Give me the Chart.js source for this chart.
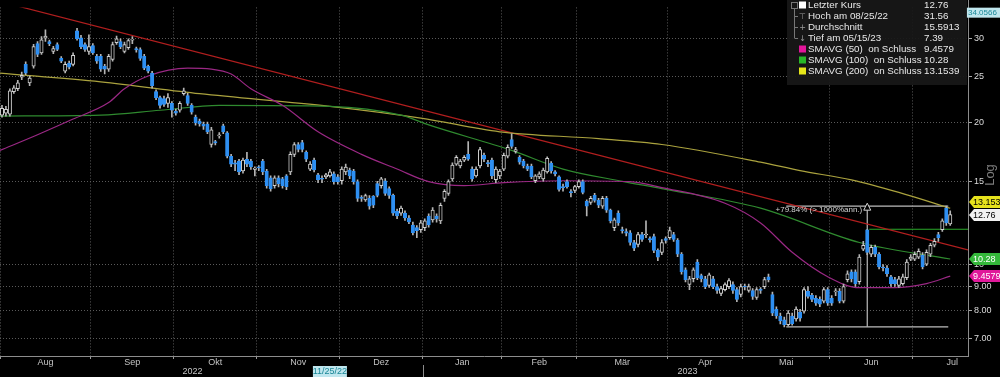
<!DOCTYPE html>
<html>
<head>
<meta charset="utf-8">
<title>Kurs</title>
<script src="https://cdn.jsdelivr.net/npm/chart.js@4.4.1/dist/chart.umd.min.js"></script>
<style>
  html, body { margin: 0; padding: 0; background: #000; }
  canvas { display: block; }
</style>
</head>
<body>
<canvas id="mycanvas" width="1000" height="377"></canvas>
<script>
// months on the axis and their trading day counts
var months = ['Aug', 'Sep', 'Okt', 'Nov', 'Dez', 'Jan', 'Feb', 'Mär', 'Apr', 'Mai', 'Jun', 'Jul'];
var monthDays = [23, 21, 21, 21, 21, 20, 19, 23, 19, 22, 21, 20];
var years = ['2022', '2023'];
var yearMonths = [5, 7];
var yTicks = [7, 8, 9, 10, 15, 20, 25, 30];

// daily candles, 01.08.2022 - 14.07.2023
var open = [20.69,20.89,20.79,23.19,23.52,24.90,26.49,24.21,26.25,29.30,
28.00,30.10,29.58,28.20,29.16,27.27,25.63,26.64,26.49,31.17,
30.14,29.16,28.20,29.02,27.53,27.53,26.25,25.88,27.14,29.44,
29.58,28.20,28.74,29.80,28.60,28.47,27.53,26.25,25.39,23.19,
22.53,22.43,21.91,21.91,21.09,21.19,22.97,22.75,21.70,20.50,
20.10,19.80,19.82,17.94,18.20,18.70,19.64,18.98,16.94,16.40,
16.54,15.77,16.70,16.54,15.90,16.10,16.54,15.77,15.25,14.69,
15.25,15.18,15.40,15.70,17.10,17.94,18.11,17.27,15.92,16.62,
15.48,15.20,15.33,15.40,15.55,15.33,15.04,15.70,15.85,15.77,
14.97,13.85,13.70,13.80,13.94,14.83,14.69,15.04,14.48,14.01,
12.97,12.85,12.85,12.55,12.13,11.97,11.85,11.97,12.67,12.43,
12.67,12.37,13.80,14.14,15.18,16.31,16.16,16.62,17.10,15.92,
15.40,16.16,17.02,16.40,16.62,15.11,15.40,15.92,16.94,18.37,
17.35,16.86,16.54,16.16,16.16,15.04,15.33,15.18,15.70,16.39,
15.70,15.33,14.60,14.97,14.25,14.35,14.62,14.97,13.61,13.54,
14.01,13.67,13.29,13.80,13.04,11.97,12.85,11.85,11.75,11.68,
11.14,11.04,11.57,11.55,11.35,11.46,10.72,10.62,11.35,11.41,
11.57,11.25,10.52,9.75,9.08,9.34,10.13,9.48,9.34,9.04,
9.34,8.99,8.70,8.86,8.99,9.08,8.86,8.65,9.00,8.82,
8.82,8.53,8.88,8.99,9.43,8.65,8.05,7.79,7.65,7.47,
7.79,7.68,7.94,7.98,8.78,8.61,8.49,8.45,8.37,8.86,
8.49,8.76,8.78,8.37,9.30,9.66,9.66,9.21,10.78,11.85,
10.52,10.88,10.52,9.86,9.84,9.43,9.30,9.04,9.12,9.39,
10.27,10.27,10.37,10.47,10.03,10.52,10.99,11.57,11.85,13.16,
12.19];
var high = [21.70,21.60,23.52,23.90,24.50,25.50,26.80,25.03,29.20,29.60,
30.30,31.33,29.80,28.90,29.40,27.50,26.80,26.90,28.00,31.56,
30.50,29.40,30.58,29.30,27.80,27.80,26.50,27.80,29.50,30.40,
30.00,29.50,30.00,30.30,28.80,28.70,27.80,26.40,25.60,23.40,
22.70,22.70,22.97,22.10,21.30,22.10,23.60,23.00,21.90,20.70,
20.30,20.00,20.00,19.50,18.30,19.00,19.80,19.10,17.10,16.60,
16.70,16.80,17.27,16.70,16.10,16.20,16.70,15.90,15.40,15.40,
15.40,15.30,15.50,17.30,18.10,18.10,18.30,17.40,16.50,16.80,
15.60,15.40,15.60,15.90,15.70,15.50,16.10,16.30,16.00,15.90,
15.10,14.00,14.10,14.00,14.00,15.00,15.30,15.20,14.60,14.10,
13.10,13.30,13.00,12.70,12.30,12.10,12.40,12.50,12.80,13.20,
12.80,13.50,14.40,15.10,16.40,17.00,16.70,17.00,18.20,16.10,
16.10,17.70,17.20,16.60,16.80,16.10,15.90,17.20,17.90,18.90,
17.70,17.00,16.70,16.30,16.30,15.50,15.70,16.00,16.90,16.50,
15.80,15.40,14.80,15.10,14.40,14.70,15.10,15.10,13.70,13.95,
14.15,13.80,13.95,13.95,13.10,12.55,13.00,12.00,11.90,11.80,
11.25,11.70,11.70,12.37,11.45,11.60,10.80,11.30,11.45,12.00,
11.70,11.35,10.60,9.85,9.45,9.85,10.25,9.55,9.45,9.60,
9.45,9.10,9.00,9.15,9.35,9.20,8.95,9.10,9.10,9.10,
8.90,8.95,8.95,9.40,9.55,8.75,8.15,7.90,7.75,8.00,
7.90,8.15,8.05,8.95,8.99,8.70,8.60,8.55,8.95,8.95,
8.60,8.90,8.90,9.10,9.70,9.75,9.75,10.50,11.20,11.88,
11.00,11.00,10.60,10.00,9.95,9.50,9.40,9.45,9.55,10.25,
10.50,10.65,10.80,10.60,10.75,11.10,11.35,11.70,12.50,13.29,
13.00];
var low = [20.50,20.60,20.60,23.00,23.30,24.60,25.20,23.87,26.00,27.50,
27.80,29.60,29.00,27.90,28.30,26.70,25.40,25.90,26.30,29.80,
28.60,28.20,27.80,27.80,26.60,25.60,25.27,25.60,26.90,29.20,
28.60,28.00,28.50,29.30,28.10,27.00,25.80,25.40,23.60,22.30,
21.40,21.60,21.49,20.50,20.70,21.00,22.80,21.70,20.80,19.70,
19.60,19.30,18.90,17.70,17.90,18.50,18.90,16.80,16.10,15.80,
15.50,15.60,16.10,15.90,15.40,15.80,15.50,14.50,14.30,14.50,
14.60,14.50,14.40,15.50,16.90,17.30,17.30,16.50,15.80,15.70,
14.90,14.90,15.20,15.30,14.80,14.80,14.80,15.50,15.20,14.80,
13.60,13.60,13.60,13.10,13.20,13.90,14.50,14.00,13.80,12.70,
12.50,12.70,12.40,12.20,11.55,11.40,11.70,11.80,12.00,12.30,
12.30,12.20,13.60,14.00,15.00,16.20,16.00,16.50,16.60,15.00,
15.30,16.00,16.50,16.10,15.20,14.90,15.20,15.80,16.80,17.60,
17.20,16.30,16.00,15.80,15.20,14.90,15.20,15.00,15.60,15.60,
15.40,14.30,14.30,14.50,13.90,14.20,14.50,14.10,12.67,13.40,
13.55,13.20,13.15,12.90,12.25,11.80,12.10,11.65,11.50,11.00,
10.70,10.90,11.20,11.40,11.15,10.60,10.20,10.50,11.10,11.30,
11.20,10.40,9.55,9.20,8.86,9.20,9.30,9.20,8.90,8.95,
8.90,8.70,8.60,8.80,8.90,8.70,8.35,8.55,8.85,8.75,
8.45,8.45,8.70,8.90,9.20,7.80,7.70,7.50,7.39,7.42,
7.45,7.60,7.60,7.90,8.50,8.35,8.20,8.15,8.30,8.20,
8.20,8.60,8.30,8.30,9.20,9.20,9.00,9.10,10.70,10.50,
10.40,10.40,9.80,9.70,9.45,9.00,9.00,8.95,9.05,9.30,
10.20,10.20,10.30,9.80,9.95,10.40,10.90,11.20,11.75,12.10,
12.10];
var close = [21.39,21.29,23.30,23.63,24.21,25.10,25.39,24.79,28.88,27.80,
29.86,30.40,29.30,28.61,28.47,26.89,26.49,26.13,27.66,30.00,
28.88,28.47,28.88,28.00,26.89,25.88,25.88,27.53,29.16,30.00,
28.88,29.16,29.72,29.90,28.40,27.27,26.00,25.63,23.87,22.53,
21.70,21.80,22.53,21.19,20.89,21.91,23.30,21.91,20.99,19.92,
19.82,19.60,19.08,19.26,18.07,18.80,19.08,16.94,16.31,16.30,
15.70,16.62,16.31,16.08,16.00,16.00,15.70,14.69,14.48,15.25,
14.83,14.69,14.62,17.10,17.94,17.51,17.51,16.70,16.31,15.85,
15.11,15.15,15.48,15.70,14.97,14.97,15.92,16.08,15.40,14.97,
13.80,13.80,14.00,13.29,13.35,14.01,15.18,14.14,14.01,12.85,
12.67,13.16,12.55,12.31,11.68,11.80,12.25,12.37,12.13,13.04,
12.49,13.35,14.28,14.97,16.23,16.86,16.54,16.86,16.70,15.18,
15.92,17.51,16.70,16.35,15.40,15.92,15.77,17.02,17.69,17.77,
17.51,16.46,16.16,15.92,15.33,15.40,15.55,15.85,16.78,15.77,
15.55,14.41,14.55,14.62,14.20,14.62,14.97,14.21,13.29,13.80,
13.67,13.35,13.80,13.04,12.37,12.43,12.25,11.80,11.65,11.14,
10.83,11.57,11.30,11.60,11.28,10.72,10.37,11.14,11.25,11.80,
11.30,10.52,9.66,9.30,9.34,9.75,9.39,9.34,8.99,9.52,
8.99,8.82,8.90,9.08,9.25,8.82,8.45,8.99,8.97,8.99,
8.57,8.86,8.82,9.30,9.30,7.90,7.79,7.61,7.47,7.90,
7.51,8.06,7.71,8.86,8.57,8.45,8.29,8.25,8.86,8.29,
8.29,8.80,8.37,8.99,9.57,9.34,9.12,10.37,10.99,10.62,
10.88,10.52,9.89,9.84,9.57,9.12,9.12,9.34,9.43,10.13,
10.37,10.52,10.67,9.89,10.62,10.99,11.20,11.41,12.37,12.25,
12.76];

// moving averages (day index, value)
var sma50X = [-0.5, 9, 18, 27, 31, 37, 47, 53, 58, 63, 71, 80, 91, 100, 108, 117, 127, 142, 159, 167, 183, 192, 200, 209, 217, 226, 234, 240];
var sma50 = [17.43, 18.81, 20.30, 22.00, 23.52, 25.03, 26.00, 25.88, 25.27, 23.52, 21.70, 19.08, 17.10, 15.92, 14.97, 14.69, 14.90, 15.04, 14.97, 14.55, 13.48, 12.25, 10.62, 9.43, 8.94, 8.94, 9.12, 9.4579];
var sma100X = [-0.5, 25, 40, 55, 83, 101, 108, 129, 142, 157, 167, 192, 217, 240];
var sma100 = [20.60, 20.69, 21.19, 21.70, 21.60, 20.69, 19.73, 17.43, 15.92, 15.00, 14.48, 13.16, 11.14, 10.28];
var sma200X = [-0.5, 25, 50, 83, 106, 126, 151, 167, 192, 202, 215, 227, 240];
var sma200 = [25.39, 24.33, 22.97, 21.60, 20.40, 19.08, 18.46, 17.94, 16.46, 15.80, 15.10, 14.21, 13.1539];

// trend line and drawn levels
var trendX = [-0.5, 244.5];
var trend = [35.95, 10.74];
var spikeX = [219.5, 244.5];
var spikeLevel = 11.88;
var boxX = [198.5, 219, 239.5];
var boxLow = 7.39;
var boxHigh = 13.29;
var boxText = '+79.84% (> 1000%ann.)';

var legendNames = ['Letzter Kurs', 'Hoch am 08/25/22', 'Durchschnitt', 'Tief am 05/15/23', 'SMAVG (50)  on Schluss', 'SMAVG (100)  on Schluss', 'SMAVG (200)  on Schluss'];
var legendValues = ['12.76', '31.56', '15.5913', '7.39', '9.4579', '10.28', '13.1539'];
var topValue = '34.0566';
var crossDate = '11/25/22';
var crossDateIdx = 83;

var FONT = '"Liberation Sans", Arial, sans-serif';
var BLUE = '#2e8ff2';

var bodies = [], wicks = [];
for (var i = 0; i < close.length; i++) {
	wicks.push({x: i, y: [low[i], high[i]]});
	bodies.push({x: i, y: [Math.min(open[i], close[i]), Math.max(open[i], close[i])]});
}

function pts(xs, ys) {
	var out = [];
	for (var i = 0; i < xs.length; i++) out.push({x: xs[i], y: ys[i]});
	return out;
}

var bounds = [];
var b = -0.5;
for (var m = 0; m < months.length; m++) {
	bounds.push(b);
	b += monthDays[m];
}

function lineSet(data, color, order) {
	return {
		type: 'line', data: data, borderColor: color, borderWidth: 1.2,
		pointRadius: 0, cubicInterpolationMode: 'monotone', order: order
	};
}

var overlay = {
	id: 'overlay',
	afterDraw: function(chart) {
		var c = chart.ctx, a = chart.chartArea, xs = chart.scales.x, ys = chart.scales.y;
		c.save();

		// axis lines
		c.strokeStyle = '#8c8c8c';
		c.lineWidth = 1;
		c.beginPath();
		c.moveTo(a.right + 0.5, 0); c.lineTo(a.right + 0.5, a.bottom + 1);
		c.moveTo(0, a.bottom + 0.5); c.lineTo(a.right + 1, a.bottom + 0.5);
		c.stroke();

		// month + year labels
		c.font = '9px ' + FONT;
		c.fillStyle = '#c4c4c4';
		c.textAlign = 'center';
		c.textBaseline = 'middle';
		for (var m = 0; m < months.length; m++) {
			c.fillText(months[m], xs.getPixelForValue(bounds[m] + monthDays[m] / 2), a.bottom + 7);
		}
		var mi = 0;
		for (var y = 0; y < years.length; y++) {
			var from = bounds[mi];
			var to = mi + yearMonths[y] < bounds.length ? bounds[mi + yearMonths[y]] : close.length - 0.5;
			// first year: centre between first and last month label
			var mid = y === 0 ? (from + monthDays[0] / 2 + bounds[mi + yearMonths[y] - 1]) / 2 : (from + to) / 2;
			c.fillText(years[y], xs.getPixelForValue(mid), a.bottom + 16);
			if (y > 0) {
				var sx = Math.round(xs.getPixelForValue(from)) + 0.5;
				c.beginPath(); c.moveTo(sx, a.bottom + 9); c.lineTo(sx, a.bottom + 21); c.stroke();
			}
			mi += yearMonths[y];
		}

		// crosshair date box
		var dx = xs.getPixelForValue(crossDateIdx);
		c.fillStyle = '#bfe6ee';
		c.fillRect(dx - 17, a.bottom + 10, 34, 11);
		c.fillStyle = '#1a8797';
		c.fillText(crossDate, dx, a.bottom + 16);

		// annotation
		var vx = xs.getPixelForValue(boxX[1]);
		var ty = ys.getPixelForValue(boxHigh);
		c.font = '8px ' + FONT;
		c.fillStyle = '#d4d4d4';
		c.textAlign = 'right';
		c.fillText(boxText, vx - 5, ty + 4);
		c.strokeStyle = '#d0d0d0';
		c.beginPath();
		c.moveTo(vx, ty - 3); c.lineTo(vx + 3.5, ty + 4); c.lineTo(vx - 3.5, ty + 4); c.closePath();
		c.fillStyle = '#000'; c.fill(); c.stroke();

		// right side value tags
		function tag(v, text, bg, fg, dy) {
			var ty = Math.round(ys.getPixelForValue(v) + dy);
			var x0 = a.right + 1;
			c.beginPath();
			c.moveTo(x0, ty); c.lineTo(x0 + 5, ty - 6); c.lineTo(1000, ty - 6);
			c.lineTo(1000, ty + 6); c.lineTo(x0 + 5, ty + 6); c.closePath();
			c.fillStyle = bg; c.fill();
			c.font = '9px ' + FONT;
			c.textAlign = 'left';
			c.fillStyle = fg;
			c.fillText(text, x0 + 4, ty + 0.5);
		}
		tag(parseFloat(legendValues[6]), legendValues[6], '#e6e21c', '#000', -6);
		tag(parseFloat(legendValues[0]), legendValues[0], '#f2f2f2', '#000', 0);
		tag(parseFloat(legendValues[5]), legendValues[5], '#34b83a', '#fff', 0);
		tag(parseFloat(legendValues[4]), legendValues[4], '#e0189a', '#fff', 0);

		var tv = ys.getPixelForValue(parseFloat(topValue));
		c.fillStyle = '#bfe6ee';
		c.fillRect(a.right - 2, tv - 5, 1000 - a.right + 2, 10);
		c.fillStyle = '#1a8797';
		c.font = '8px ' + FONT;
		c.textAlign = 'left';
		c.fillText(topValue, a.right, tv + 0.5);

		// Log
		c.save();
		c.translate(990, 175);
		c.rotate(-Math.PI / 2);
		c.font = '13px ' + FONT;
		c.fillStyle = '#7c7c7c';
		c.textAlign = 'center';
		c.fillText('Log', 0, 0);
		c.restore();

		// legend box
		var lx = 787, lw = a.right - 1 - lx;
		c.fillStyle = 'rgba(24,24,24,0.93)';
		c.fillRect(lx, 0, lw, 85);
		c.strokeStyle = '#777';
		c.beginPath();
		c.moveTo(794.5, 8); c.lineTo(794.5, 38);
		for (var r = 1; r < 4; r++) { c.moveTo(794.5, 5.5 + r * 11); c.lineTo(798, 5.5 + r * 11); }
		c.stroke();
		c.strokeRect(791.5, 2.5, 6, 6);
		var icons = ['#ffffff', null, null, null, '#e3159a', '#28b828', '#e6e619'];
		var glyphs = ['', '⊤', '+', '↓', '', '', ''];
		var lf = '9.8px ' + FONT;
		c.font = lf;
		for (var r = 0; r < legendNames.length; r++) {
			var ry = 5.5 + r * 11;
			if (icons[r]) {
				c.fillStyle = icons[r];
				c.fillRect(799, ry - 4, 7, 7);
			} else {
				c.fillStyle = '#9a9a9a';
				c.textAlign = 'center';
				c.font = '8px "DejaVu Sans", sans-serif';
				c.fillText(glyphs[r], 802.5, ry);
				c.font = lf;
			}
			c.fillStyle = '#e8e8e8';
			c.textAlign = 'left';
			c.fillText(legendNames[r], 808, ry);
			c.fillText(legendValues[r], 924, ry);
		}
		c.restore();
	}
};

var ctx = document.getElementById('mycanvas');

var chart = new Chart(ctx, {
	type: 'bar',
	data: {
		datasets: [
			{ type: 'bar', data: bodies, grouped: false, barThickness: 3.4, minBarLength: 1, borderWidth: 1, borderSkipped: false,
				backgroundColor: function(c) { var i = c.dataIndex; return close[i] >= open[i] ? '#000000' : BLUE; },
				borderColor: function(c) { var i = c.dataIndex; return close[i] >= open[i] ? '#d0d0d0' : BLUE; },
				order: 0 },
			{ type: 'bar', data: wicks, grouped: false, barThickness: 1, backgroundColor: '#b4b4b4', order: 1 },
			lineSet(pts(sma50X, sma50), '#9a2884', 2),
			lineSet(pts(sma100X, sma100), '#2f8a2f', 2),
			lineSet(pts(sma200X, sma200), '#aaa23e', 2),
			lineSet(pts(trendX, trend), '#b01e1e', 2),
			lineSet([{x: spikeX[0], y: spikeLevel}, {x: spikeX[1], y: spikeLevel}], '#2aa82a', 2),
			lineSet([{x: boxX[0], y: boxHigh}, {x: boxX[2], y: boxHigh}], '#bdbdbd', 3),
			lineSet([{x: boxX[0], y: boxLow}, {x: boxX[2], y: boxLow}], '#bdbdbd', 3),
			lineSet([{x: boxX[1], y: boxLow}, {x: boxX[1], y: boxHigh}], '#bdbdbd', 3)
		]
	},
	options: {
		responsive: false,
		animation: false,
		devicePixelRatio: 1,
		layout: { padding: 0 },
		plugins: { legend: { display: false }, tooltip: { enabled: false } },
		scales: {
			x: {
				type: 'linear', min: -0.5, max: 244.5, offset: false,
				afterBuildTicks: function(s) { s.ticks = bounds.map(function(v) { return {value: v}; }); },
				afterFit: function(s) { s.height = 21; },
				ticks: { display: false, autoSkip: false },
				grid: { offset: false, color: '#5a5a5a', tickLength: 3, tickColor: '#999', tickBorderDash: [] },
				border: { display: false, dash: [1, 2] }
			},
			y: {
				type: 'logarithmic', position: 'right', min: 6.414, max: 34.94,
				afterBuildTicks: function(s) { s.ticks = yTicks.map(function(v) { return {value: v}; }); },
				afterFit: function(s) { s.width = 32; },
				ticks: {
					autoSkip: false, color: '#dcdcdc', padding: 2, font: { size: 9, family: FONT },
					callback: function(v) { return v < 10 ? v.toFixed(2) : String(v); }
				},
				grid: { color: '#5a5a5a', tickLength: 4, tickColor: '#aaa', tickBorderDash: [] },
				border: { display: false, dash: [1, 2] }
			}
		}
	},
	plugins: [overlay]
});
</script>
</body>
</html>
